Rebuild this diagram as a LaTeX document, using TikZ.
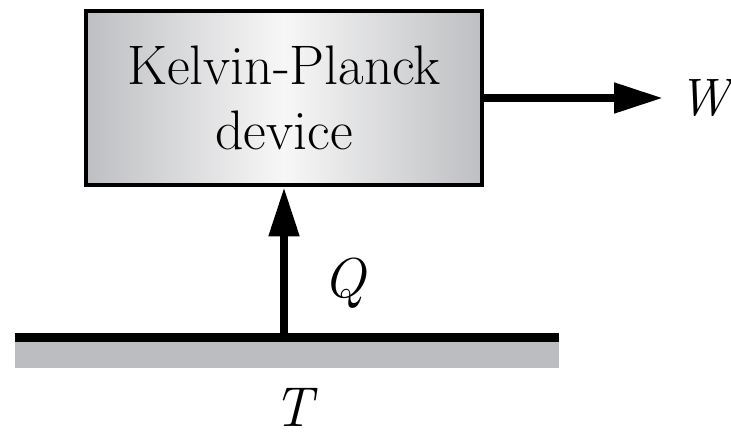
\documentclass[tikz,border=0pt]{standalone}
\usepackage{xcolor}
\usetikzlibrary{arrows.meta, positioning, calc}

\definecolor{boxedge}{RGB}{190,191,194}
\definecolor{boxmid}{RGB}{247,247,247}
\definecolor{resgray}{RGB}{188,189,192}

\begin{document}
\begin{tikzpicture}[
        x=0.02cm, y=-0.02cm,
        font=\rmfamily\fontsize{31.7}{37.4}\selectfont,
        device/.style={rectangle, draw=black, line width=2.6pt, left color=boxedge, right color=boxedge, middle color=boxmid, minimum width=7.92cm, minimum height=3.48cm, align=center, inner sep=0pt},
        flow/.style={-{Triangle[length=0.98cm, width=0.58cm]}, line width=4.5pt},
        sym/.style={font=\rmfamily\fontsize{32}{37.4}\selectfont\itshape, inner sep=0pt}
    ]
    \useasboundingbox (0,0) rectangle (731,433);

    % 1. Thiet bi va nguon nhiet
    \node[device] (kp) at (284,98) {Kelvin-Planck\\device};
    \node[fill=resgray, minimum width=10.88cm, minimum height=0.52cm, inner sep=0pt] (res) at (287,355) {};
    \draw[line width=0.18cm] ([yshift=0.09cm]res.north west) -- ([yshift=0.09cm]res.north east);

    % 2. Cac mui ten
    \coordinate (qsrc) at (284,337.5);
    \coordinate (wend) at (663,98);
    \draw[flow] (qsrc) -- (kp.south);
    \draw[flow] (kp.east) -- (wend);

    % 3. Ky hieu
    \node[sym, font=\rmfamily\fontsize{30}{36}\selectfont\itshape, right=0.3cm of wend] (w) {W};
    \node[sym, anchor=base west] (q) at (323,297) {Q};
    \node[sym, anchor=base] (t) at (293,426) {T};

\end{tikzpicture}
\end{document}
